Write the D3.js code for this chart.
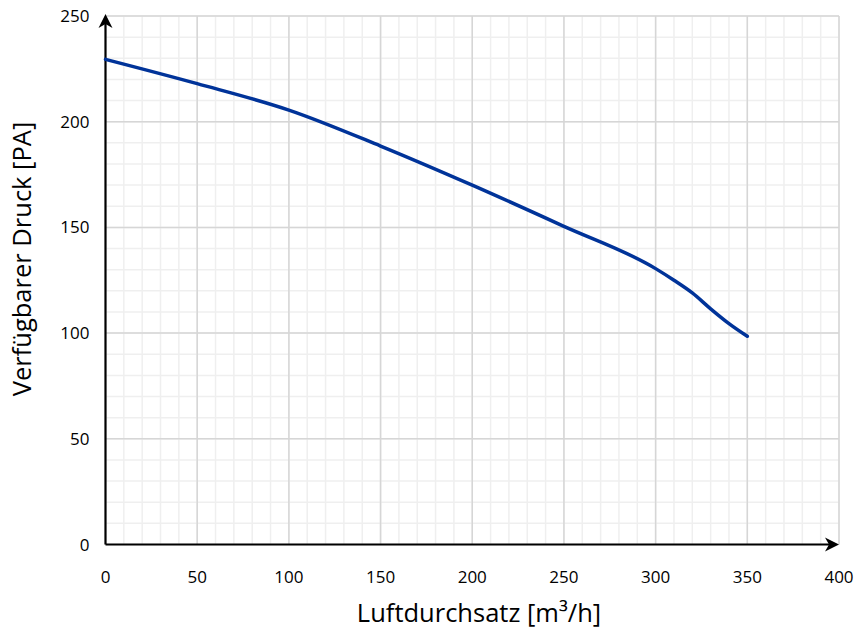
<!DOCTYPE html>
<html>
<head>
<meta charset="utf-8">
<script src="https://cdn.jsdelivr.net/npm/d3@7"></script>
<style>
  html, body { margin: 0; padding: 0; background: #fff; }
  svg { display: block; }
  text { font-family: "Open Sans", "Noto Sans", sans-serif; fill: #000; }
</style>
</head>
<body>
<svg id="chart" width="857" height="636"></svg>
<script>
// Fan curve: available pressure vs. air flow
const airflow  = [0, 50, 100, 150, 200, 250, 300, 310, 320, 330, 340, 350];
const pressure = [229.5, 218, 205.5, 188.5, 170, 150.5, 130.5, 125, 119, 111.5, 104.5, 98.5];
const xTicks = [0, 50, 100, 150, 200, 250, 300, 350, 400];
const yTicks = [0, 50, 100, 150, 200, 250];
const xMinor = d3.range(0, 401, 10);
const yMinor = d3.range(0, 251, 10);

const svg = d3.select("#chart");
const x = d3.scaleLinear().domain([0, 400]).range([105.5, 839]);
const y = d3.scaleLinear().domain([0, 250]).range([544.5, 16]);

// minor grid
svg.append("g").selectAll("line").data(xMinor).join("line")
  .attr("x1", d => x(d)).attr("x2", d => x(d))
  .attr("y1", y(0)).attr("y2", y(250))
  .attr("stroke", "#efefef").attr("stroke-width", 1.5);
svg.append("g").selectAll("line").data(yMinor).join("line")
  .attr("x1", x(0)).attr("x2", x(400))
  .attr("y1", d => y(d)).attr("y2", d => y(d))
  .attr("stroke", "#efefef").attr("stroke-width", 1.5);

// major grid
svg.append("g").selectAll("line").data(xTicks.slice(1)).join("line")
  .attr("x1", d => x(d)).attr("x2", d => x(d))
  .attr("y1", y(0)).attr("y2", y(250))
  .attr("stroke", "#d6d6d6").attr("stroke-width", 1.5);
svg.append("g").selectAll("line").data(yTicks.slice(1)).join("line")
  .attr("x1", x(0)).attr("x2", x(400))
  .attr("y1", d => y(d)).attr("y2", d => y(d))
  .attr("stroke", "#d6d6d6").attr("stroke-width", 1.5);

// axes with arrowheads
const axisColor = "#000";
svg.append("line").attr("x1", x(0)).attr("x2", x(400) - 6)
  .attr("y1", y(0)).attr("y2", y(0)).attr("stroke", axisColor).attr("stroke-width", 2.2);
svg.append("line").attr("x1", x(0)).attr("x2", x(0))
  .attr("y1", y(0)).attr("y2", y(250) + 6).attr("stroke", axisColor).attr("stroke-width", 2.2);
svg.append("path")
  .attr("d", `M${x(400)},${y(0)} L${x(400) - 14},${y(0) - 7} L${x(400) - 10},${y(0)} L${x(400) - 14},${y(0) + 7} Z`)
  .attr("fill", axisColor);
svg.append("path")
  .attr("d", `M${x(0)},${y(250) - 2} L${x(0) - 7},${y(250) + 12} L${x(0)},${y(250) + 8} L${x(0) + 7},${y(250) + 12} Z`)
  .attr("fill", axisColor);

// tick labels
svg.append("g").selectAll("text").data(xTicks).join("text")
  .attr("x", d => x(d)).attr("y", y(0) + 38)
  .attr("text-anchor", "middle").attr("font-size", 17)
  .text(d => d);
svg.append("g").selectAll("text").data(yTicks).join("text")
  .attr("x", x(0) - 16).attr("y", d => y(d) + 6)
  .attr("text-anchor", "end").attr("font-size", 17)
  .text(d => d);

// axis titles
svg.append("text").attr("x", 479).attr("y", 622)
  .attr("text-anchor", "middle").attr("font-size", 25.5)
  .text("Luftdurchsatz [m³/h]");
svg.append("text")
  .attr("transform", "translate(31,259) rotate(-90)")
  .attr("text-anchor", "middle").attr("font-size", 25.5)
  .text("Verfügbarer Druck [PA]");

// curve
const pts = airflow.map((a, i) => [a, pressure[i]]);
const line = d3.line().x(d => x(d[0])).y(d => y(d[1])).curve(d3.curveMonotoneX);
svg.append("path").datum(pts)
  .attr("d", line)
  .attr("fill", "none")
  .attr("stroke", "#003399")
  .attr("stroke-width", 3.5)
  .attr("stroke-linecap", "round");
</script>
</body>
</html>
